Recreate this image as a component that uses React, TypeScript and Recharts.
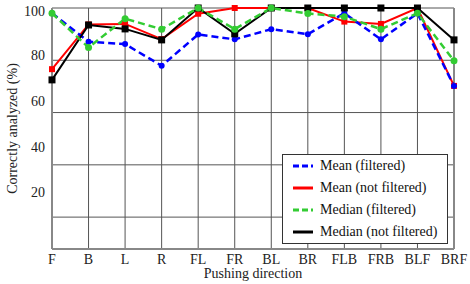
import React from 'react';
import { LineChart, Line, XAxis, YAxis, CartesianGrid, Legend, ReferenceLine } from 'recharts';

const directions = ['F', 'B', 'L', 'R', 'FL', 'FR', 'BL', 'BR', 'FLB', 'FRB', 'BLF', 'BRF'];
const meanFiltered = [98.0, 87.1, 86.2, 77.9, 89.9, 88.0, 91.9, 90.0, 98.0, 88.0, 98.0, 70.2];
const meanNotFiltered = [76.6, 93.7, 93.9, 88.1, 97.8, 100, 100, 100, 94.8, 93.9, 100, 70.2];
const medianFiltered = [98.0, 84.9, 95.9, 91.9, 100, 91.9, 100, 97.9, 96.7, 91.9, 98.0, 79.8];
const medianNotFiltered = [72.5, 93.5, 92.0, 87.8, 100, 90.1, 100, 100, 100, 100, 100, 87.8];
const yTicks = [20, 40, 60, 80, 100];

const FONT = '"Liberation Serif", "Times New Roman", serif';

const data = directions.map((d, i) => ({
  dir: d,
  meanF: meanFiltered[i],
  meanNF: meanNotFiltered[i],
  medF: medianFiltered[i],
  medNF: medianNotFiltered[i],
}));

const legendItems = [
  { name: 'Mean (filtered)', color: '#0000ff', dash: '6 3' },
  { name: 'Mean (not filtered)', color: '#ff0000', dash: undefined },
  { name: 'Median (filtered)', color: '#33cc33', dash: '6 3' },
  { name: 'Median (not filtered)', color: '#000000', dash: undefined },
];

const squareDot = (size: number, color: string) => (props: any) => {
  const { cx, cy, index, dataKey } = props;
  if (cx == null || cy == null) return <g key={`${dataKey}-${index}`} />;
  return (
    <rect
      key={`${dataKey}-${index}`}
      x={cx - size / 2}
      y={cy - size / 2}
      width={size}
      height={size}
      fill={color}
      stroke="none"
    />
  );
};

// tick labels in the reference sit slightly off their grid lines
const YTick = (props: any) => {
  const { x, y, payload } = props;
  const v = payload.value;
  const shift = 2 - (100 - v) * 0.338;
  return (
    <text
      x={x}
      y={y + shift}
      dy="0.355em"
      textAnchor="end"
      fill="#222"
      fontSize={14}
      fontFamily={FONT}
    >
      {v}
    </text>
  );
};

const LegendBox = () => (
  <div
    style={{
      boxSizing: 'border-box',
      width: 166,
      height: 90,
      border: '1.5px solid #333',
      background: '#fff',
      fontFamily: FONT,
      fontSize: 14,
      color: '#111',
    }}
  >
    {legendItems.map((it) => (
      <div key={it.name} style={{ height: 22, display: 'flex', alignItems: 'center' }}>
        <svg width={37} height={22} style={{ flex: 'none' }}>
          <line
            x1={10}
            x2={30}
            y1={11}
            y2={11}
            stroke={it.color}
            strokeWidth={3}
            strokeDasharray={it.dash}
          />
        </svg>
        <span style={{ whiteSpace: 'nowrap', lineHeight: '22px' }}>{it.name}</span>
      </div>
    ))}
  </div>
);

export default function App() {
  return (
    <div style={{ position: 'absolute', left: 0, top: 0, background: '#fff' }}>
      <LineChart
        width={470}
        height={284}
        data={data}
        margin={{ top: 8, right: 16, bottom: 0, left: 0 }}
      >
        <CartesianGrid stroke="#555" strokeWidth={1} />
        <XAxis
          dataKey="dir"
          interval={0}
          tickLine={false}
          axisLine={{ stroke: '#888', strokeWidth: 2 }}
          tick={{ fill: '#222', fontSize: 14, fontFamily: FONT }}
          tickSize={3}
          tickMargin={2}
          height={35}
          label={{
            value: 'Pushing direction',
            position: 'insideBottom',
            offset: 6,
            fill: '#222',
            fontSize: 14,
            fontFamily: FONT,
          }}
        />
        <YAxis
          type="number"
          domain={[7.8, 100]}
          ticks={yTicks}
          width={52}
          tickLine={false}
          tickSize={5}
          tickMargin={2}
          axisLine={{ stroke: '#888', strokeWidth: 2 }}
          tick={<YTick />}
          label={{
            value: 'Correctly analyzed (%)',
            angle: -90,
            position: 'insideLeft',
            offset: 12,
            fill: '#222',
            fontSize: 14,
            fontFamily: FONT,
            style: { textAnchor: 'middle' },
          }}
        />
        <ReferenceLine x="BRF" stroke="#888" strokeWidth={2} />
        <Line
          dataKey="meanNF"
          name="Mean (not filtered)"
          stroke="#ff0000"
          strokeWidth={2}
          dot={squareDot(6, '#ff0000')}
          activeDot={false}
          isAnimationActive={false}
        />
        <Line
          dataKey="meanF"
          name="Mean (filtered)"
          stroke="#0000ff"
          strokeWidth={2.5}
          strokeDasharray="7 4"
          dot={{ r: 3, fill: '#0000ff', stroke: 'none', strokeDasharray: '' }}
          activeDot={false}
          isAnimationActive={false}
        />
        <Line
          dataKey="medNF"
          name="Median (not filtered)"
          stroke="#000000"
          strokeWidth={2}
          dot={squareDot(7, '#000000')}
          activeDot={false}
          isAnimationActive={false}
        />
        <Line
          dataKey="medF"
          name="Median (filtered)"
          stroke="#33cc33"
          strokeWidth={2.5}
          strokeDasharray="7 4"
          dot={{ r: 3.5, fill: '#33cc33', stroke: 'none', strokeDasharray: '' }}
          activeDot={false}
          isAnimationActive={false}
        />
        <Legend
          layout="vertical"
          align="center"
          verticalAlign="middle"
          wrapperStyle={{ left: 282, top: 154, width: 166, height: 90 }}
          content={() => <LegendBox />}
        />
      </LineChart>
    </div>
  );
}
